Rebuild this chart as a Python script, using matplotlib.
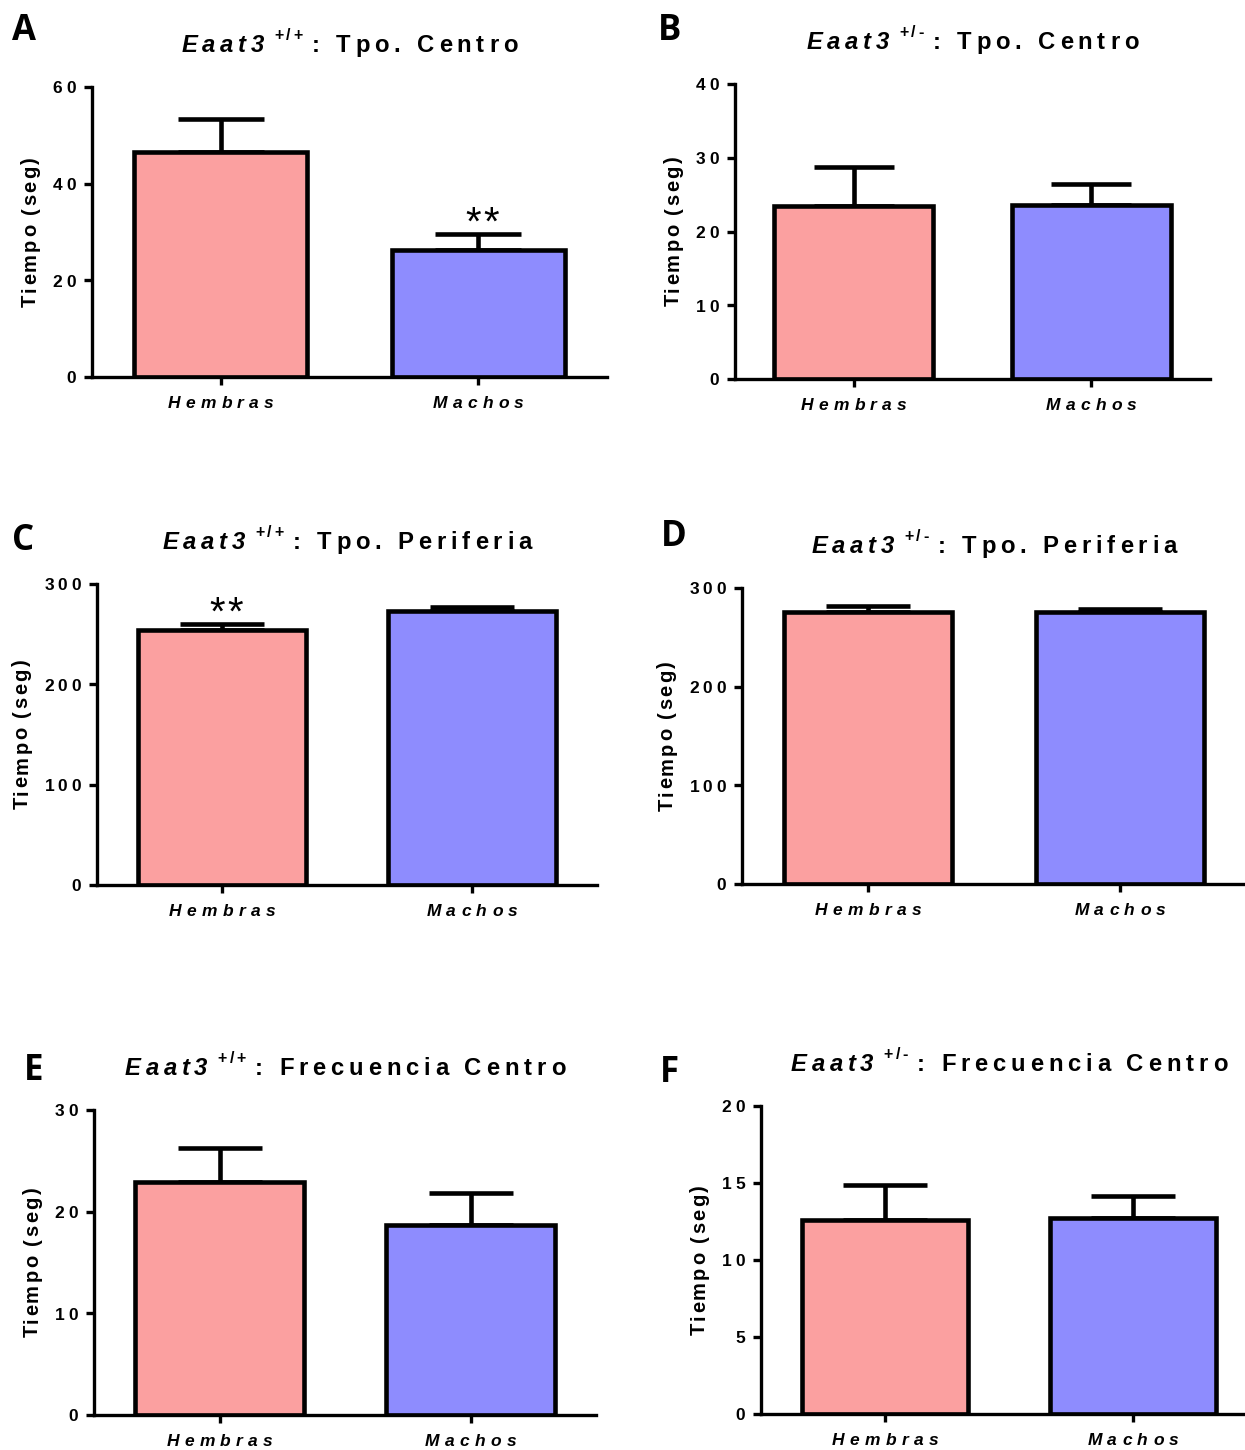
import numpy as np
import matplotlib
matplotlib.use("Agg")
import matplotlib.pyplot as plt
from matplotlib import font_manager, ft2font
from matplotlib.font_manager import FontProperties

W, H, DPI = 1245, 1450, 100

# ---------------- data ----------------
categories = ["Hembras", "Machos"]
bar_colors = ["#FBA0A0", "#8E8CFE"]
ylabel_text = "Tiempo (seg)"

panel_letters = ["A", "B", "C", "D", "E", "F"]
genotypes = ["+/+", "+/-", "+/+", "+/-", "+/+", "+/-"]
measures = ["Tpo. Centro", "Tpo. Centro", "Tpo. Periferia", "Tpo. Periferia",
            "Frecuencia Centro", "Frecuencia Centro"]

means_A = [46.6, 26.3]
sem_A = [6.7, 3.3]
means_B = [23.5, 23.6]
sem_B = [5.2, 2.8]
means_C = [254.0, 273.5]
sem_C = [6.6, 3.5]
means_D = [276.0, 276.0]
sem_D = [5.3, 3.2]
means_E = [22.9, 18.7]
sem_E = [3.4, 3.1]
means_F = [12.6, 12.7]
sem_F = [2.3, 1.45]

yticks_A = [0, 20, 40, 60]
yticks_B = [0, 10, 20, 30, 40]
yticks_C = [0, 100, 200, 300]
yticks_D = [0, 100, 200, 300]
yticks_E = [0, 10, 20, 30]
yticks_F = [0, 5, 10, 15, 20]

stars_A = ["", "**"]
stars_B = ["", ""]
stars_C = ["**", ""]
stars_D = ["", ""]
stars_E = ["", ""]
stars_F = ["", ""]

# ---------------- layout (pixels, top-origin) ----------------
boxes = [(92, 607, 87, 377), (735, 1210, 84, 379),
         (97, 597, 584, 885), (742, 1246, 588, 884),
         (94, 596, 1110, 1415), (761, 1257, 1106, 1414)]
letter_pos = [(12, 40), (658, 40), (12, 550), (661, 546), (24, 1080), (660, 1082)]

FAM = "Liberation Sans"
_paths = {}


def font_path(family, weight, style):
    key = (family, weight, style)
    if key not in _paths:
        _paths[key] = font_manager.findfont(
            FontProperties(family=family, weight=weight, style=style))
    return _paths[key]


def advance(ch, path, size_pt):
    f = ft2font.FT2Font(path)
    f.set_size(size_pt, DPI)
    g = f.load_char(ord(ch))
    return g.linearHoriAdvance / 65536.0


def layout(segments):
    items = []
    x = 0.0
    for s in segments:
        fam = s.get("family", FAM)
        p = font_path(fam, s.get("weight", "bold"), s.get("style", "normal"))
        for i, ch in enumerate(s["text"]):
            items.append((x, ch, s, fam))
            x += advance(ch, p, s["size"])
            if i < len(s["text"]) - 1:
                x += s.get("track", 0)
        x += s.get("gap", 0)
    return items, x


def draw_spaced(fig, x, y, segments, ha="center", rotation=0, color="black"):
    """x, y in top-origin pixels; y is baseline."""
    items, total = layout(segments)
    if ha == "center":
        start = -total / 2.0
    elif ha == "right":
        start = -total
    else:
        start = 0.0
    for off, ch, s, fam in items:
        if ch == " ":
            continue
        d = start + off
        if rotation == 0:
            px, py = x + d, y - s.get("dy", 0)
        else:
            px, py = x - s.get("dy", 0), y - d
        fig.text(px / W, 1 - py / H, ch, fontsize=s["size"], family=fam,
                 weight=s.get("weight", "bold"), style=s.get("style", "normal"),
                 ha="left", va="baseline", rotation=rotation,
                 rotation_mode="anchor", color=color)


fig = plt.figure(figsize=(W / DPI, H / DPI), dpi=DPI, facecolor="white")

all_means = [means_A, means_B, means_C, means_D, means_E, means_F]
all_sem = [sem_A, sem_B, sem_C, sem_D, sem_E, sem_F]
all_ticks = [yticks_A, yticks_B, yticks_C, yticks_D, yticks_E, yticks_F]
all_stars = [stars_A, stars_B, stars_C, stars_D, stars_E, stars_F]

BAR_W = 0.67
LW = 3.3

for k in range(6):
    l, r, t, b = boxes[k]
    ax = fig.add_axes([l / W, 1 - b / H, (r - l) / W, (b - t) / H])
    ax.set_facecolor("none")
    ticks = all_ticks[k]
    ax.set_ylim(ticks[0], ticks[-1])
    ax.set_xlim(-0.5, 1.5)
    x = np.arange(len(categories))
    m = np.array(all_means[k])
    e = np.array(all_sem[k])
    ax.bar(x, m, width=BAR_W, color=bar_colors, edgecolor="black",
           linewidth=LW, zorder=3)
    px_per_unit = (r - l) / 2.0
    cap_pt = (BAR_W / 4.0) * px_per_unit * 72.0 / DPI
    ax.errorbar(x, m, yerr=[np.zeros_like(e), e], fmt="none", ecolor="black",
                elinewidth=LW, capsize=cap_pt, capthick=LW, zorder=2)
    for s in ["top", "right"]:
        ax.spines[s].set_visible(False)
    for s in ["left", "bottom"]:
        ax.spines[s].set_linewidth(2.4)
        ax.spines[s].set_zorder(4)
    ax.set_yticks(ticks)
    ax.set_xticks(x)
    ax.tick_params(axis="both", length=5.8, width=2.4, direction="out",
                   labelleft=False, labelbottom=False)

    # tick labels (letter-spaced, drawn through axis transforms)
    tick_size = 12.5
    maxw = 0
    for tv in ax.get_yticks():
        _, py = ax.transData.transform((0, tv))
        ytop = H - py
        seg = [dict(text=str(int(tv)), size=tick_size, track=3.8)]
        draw_spaced(fig, l - 16, ytop + 6.3, seg, ha="right")
        maxw = max(maxw, layout(seg)[1])
    for xi, name in zip(ax.get_xticks(), categories):
        px, _ = ax.transData.transform((xi, 0))
        draw_spaced(fig, px, b + 31,
                    [dict(text=name, size=12.5, style="italic", track=5.3)])

    # y label
    ylab_x = l - 16 - maxw - 17
    draw_spaced(fig, ylab_x, (t + b) / 2.0,
                [dict(text=ylabel_text, size=14.5, track=2.2)],
                ha="center", rotation=90)

    # title
    cx, _ = ax.transData.transform((0.5, 0))
    draw_spaced(fig, cx, t - 35, [
        dict(text="Eaat3", size=17.2, style="italic", track=4.8, gap=10),
        dict(text=genotypes[k], size=11.5, track=2.5, dy=12, gap=9),
        dict(text=": " + measures[k], size=17.2, track=4.8),
    ])

    # significance stars
    for xi, st, mv, ev in zip(x, all_stars[k], m, e):
        if st:
            px, py = ax.transData.transform((xi, mv + ev))
            draw_spaced(fig, px + 4, H - py + 1,
                        [dict(text=st, size=29, weight="normal", track=2)])

    # panel letter
    lx, ly = letter_pos[k]
    fig.text(lx / W, 1 - ly / H, panel_letters[k], fontsize=25, family="Open Sans",
             weight="bold", ha="left", va="baseline")

fig.savefig("out.png", dpi=DPI, facecolor="white")
